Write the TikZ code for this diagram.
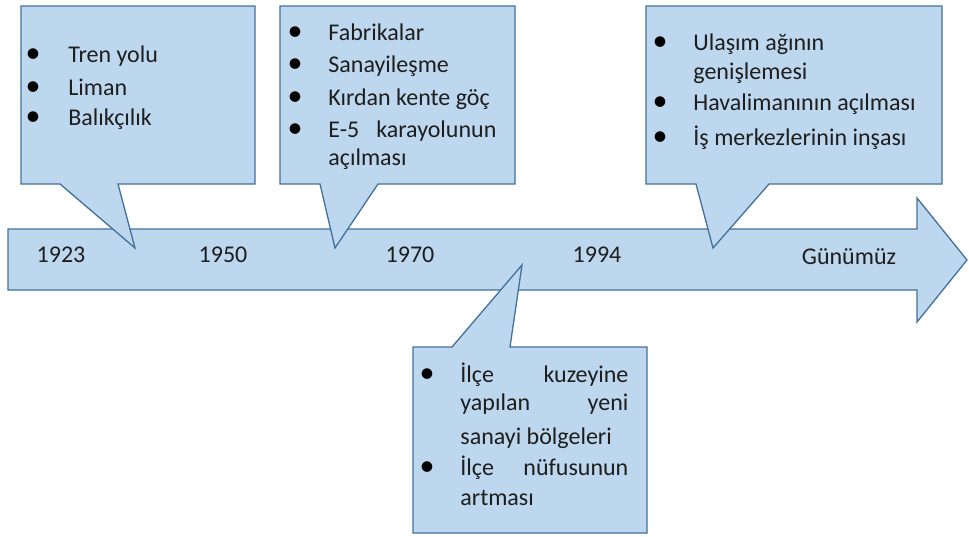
\documentclass[tikz,border=0pt]{standalone}
\usepackage{fontspec}
\setmainfont{Carlito}
\usetikzlibrary{positioning,calc}
\definecolor{callfill}{HTML}{BDD7EE}
\definecolor{callline}{HTML}{41719C}
\definecolor{txt}{HTML}{1E1E1E}
\newcommand{\spread}[2]{\hbox to 84pt{#1\hfill #2}}
\tikzset{
  balloon/.style={draw=callline, fill=callfill, line width=0.65pt, line join=miter},
  item/.style={anchor=base west, inner sep=0pt, text=txt},
  dot/.style={anchor=base, inner sep=0pt, text=black, scale=1.25},
  year/.style={inner sep=0pt, text=txt}
}

\begin{document}
\begin{tikzpicture}[x=0.5pt,y=-0.5pt,font=\fontsize{12}{15}\selectfont]
	\useasboundingbox (0,0) rectangle (969,536);

	% timeline arrow
	\draw[balloon] (8,229) -- (917,229) -- (917,198) -- (967,260) -- (917,322) -- (917,290) -- (8,290) -- cycle;
	\node[year] (y1923) at (61,255) {1923};
	\node[year] (y1950) at (223,255) {1950};
	\node[year] (y1970) at (410,255) {1970};
	\node[year] (y1994) at (597,255) {1994};
	\node[year] (ynow) at (849,257) {Günümüz};

	% 1923
	\draw[balloon] (21,6) -- (255,6) -- (255,184) -- (118,184) -- (135,248) -- (60,184) -- (21,184) -- cycle;
	\node[dot] (b11) at (33,62) {\textbullet};
	\node[item] (t11) at (68,62) {Tren yolu};
	\node[dot] (b12) at (33,95) {\textbullet};
	\node[item] (t12) at (68,95) {Liman};
	\node[dot] (b13) at (33,125) {\textbullet};
	\node[item] (t13) at (68,125) {Balıkçılık};

	% 1950
	\draw[balloon] (280,6) -- (515,6) -- (515,184) -- (378,184) -- (335,248) -- (320,184) -- (280,184) -- cycle;
	\node[dot] (b21) at (295,40) {\textbullet};
	\node[item] (t21) at (328,40) {Fabrikalar};
	\node[dot] (b22) at (295,72) {\textbullet};
	\node[item] (t22) at (328,72) {Sanayileşme};
	\node[dot] (b23) at (295,105) {\textbullet};
	\node[item] (t23) at (328,105) {Kırdan kente göç};
	\node[dot] (b24) at (295,137) {\textbullet};
	\node[item] (t24) at (328,137) {\spread{E-5}{karayolunun}};
	\node[item] (t25) at (328,165) {açılması};

	% 1994
	\draw[balloon] (646,6) -- (942,6) -- (942,184) -- (769,184) -- (713,248) -- (696,184) -- (646,184) -- cycle;
	\node[dot] (b31) at (660,50) {\textbullet};
	\node[item] (t31) at (693,50) {Ulaşım ağının};
	\node[item] (t32) at (693,79) {genişlemesi};
	\node[dot] (b33) at (660,110) {\textbullet};
	\node[item] (t33) at (693,110) {Havalimanının açılması};
	\node[dot] (b34) at (660,145) {\textbullet};
	\node[item] (t34) at (693,145) {İş merkezlerinin inşası};

	% 1970
	\draw[balloon] (413,347) -- (452,347) -- (522,265) -- (510,347) -- (647,347) -- (647,533) -- (413,533) -- cycle;
	\node[dot] (b41) at (427,382) {\textbullet};
	\node[item] (t41) at (460,382) {\spread{İlçe}{kuzeyine}};
	\node[item] (t42) at (460,410) {\spread{yapılan}{yeni}};
	\node[item] (t43) at (460,444) {sanayi bölgeleri};
	\node[dot] (b44) at (427,475) {\textbullet};
	\node[item] (t44) at (460,475) {\spread{İlçe}{nüfusunun}};
	\node[item] (t45) at (460,505) {artması};

\end{tikzpicture}
\end{document}
